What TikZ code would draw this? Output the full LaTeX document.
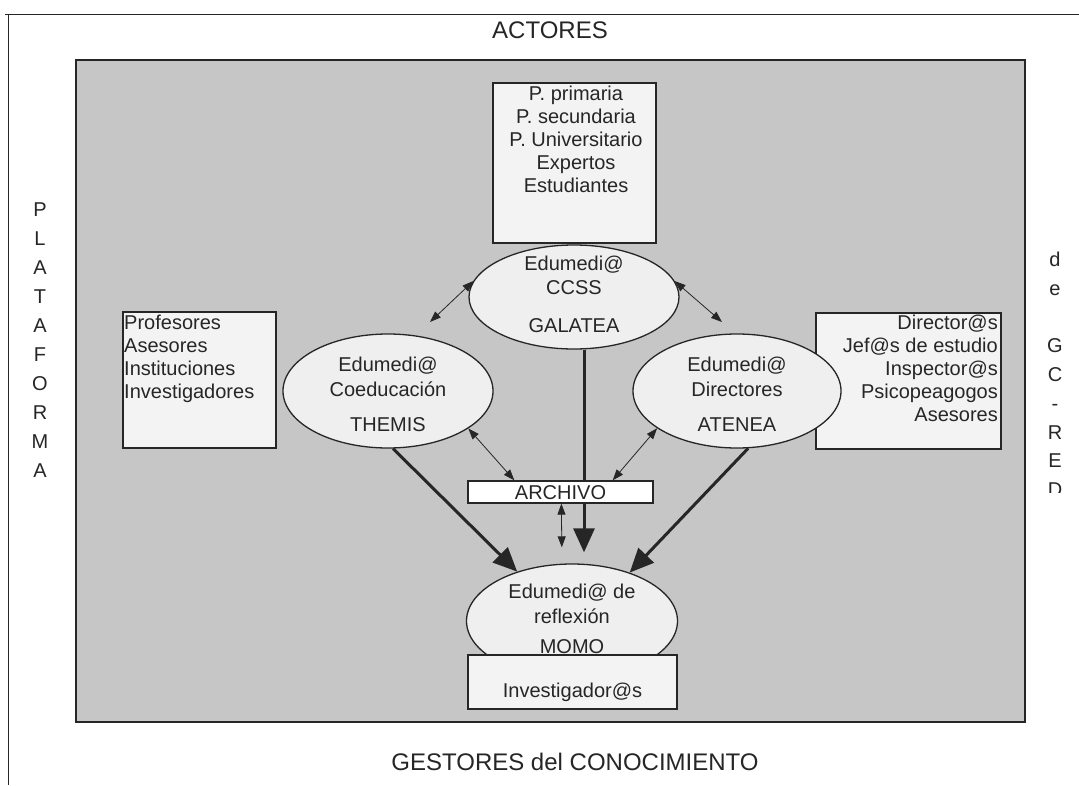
\documentclass[tikz,border=0pt]{standalone}
\usepackage{fontspec}
\setmainfont{Liberation Sans}
\usetikzlibrary{shapes.geometric,arrows.meta}
\definecolor{ink}{HTML}{262626}
\definecolor{bggrey}{HTML}{C6C6C6}
\definecolor{ellfill}{HTML}{EFEFEF}
\definecolor{boxfill}{HTML}{F3F3F3}
\tikzset{
  txt/.style={font=\fontsize{20}{23}\selectfont, text=ink, inner sep=0pt},
  title/.style={font=\fontsize{24}{28}\selectfont, text=ink, inner sep=0pt},
  boxstyle/.style={draw=ink, line width=1.3pt, fill=boxfill, rectangle, inner sep=0pt},
  ellstyle/.style={draw=ink, line width=1.3pt, fill=ellfill, ellipse, inner sep=0pt},
  bigarrow/.style={draw=ink, line width=3pt, -{Triangle[length=24pt,width=21pt]}},
  smallarrow/.style={draw=ink, line width=0.8pt, {Triangle[length=11pt,width=8pt]}-{Triangle[length=11pt,width=8pt]}},
}
\begin{document}
\begin{tikzpicture}[x=1pt,y=-1pt]
\useasboundingbox[fill=white] (0,0) rectangle (1079,785);
% outer page frame
\draw[ink, line width=1pt] (5,14) -- (1079,14);
\draw[ink, line width=1pt] (8,14) -- (8,785);
% grey panel
\node[draw=ink, line width=1.6pt, fill=bggrey, rectangle, inner sep=0pt,
  minimum width=949pt, minimum height=662pt] (panel) at (550.5,391) {};
% titles
\node[title] (actores) at (550,30) {ACTORES};
\node[title] (gestores) at (575,762) {GESTORES del CONOCIMIENTO};
\node[txt, align=center, font=\fontsize{20}{29}\selectfont] (plataforma) at (40,340)
  {P\\L\\A\\T\\A\\F\\O\\R\\M\\A};
\begin{scope}
\clip (1030,0) rectangle (1079,492);
\node[txt, align=center, font=\fontsize{20}{28.75}\selectfont, anchor=north] (gcred) at (1055,252)
  {d\\e\\[28.75pt]G\\C\\-\\R\\E\\D};
\end{scope}
% boxes
\node[boxstyle, minimum width=163pt, minimum height=160pt] (actbox) at (574.5,163) {};
\node[txt, align=center, anchor=north] (acttext) at (576,86)
  {P. primaria\\P. secundaria\\P. Universitario\\Expertos\\Estudiantes};
\node[boxstyle, minimum width=153pt, minimum height=136pt] (leftbox) at (199.5,380) {};
\node[txt, align=left, anchor=north west] (lefttext) at (124,315)
  {Profesores\\Asesores\\Instituciones\\Investigadores};
\node[boxstyle, minimum width=185pt, minimum height=136pt] (rightbox) at (908.5,381) {};
\node[txt, align=right, anchor=north east] (righttext) at (998,315)
  {Director@s\\Jef@s de estudio\\Inspector@s\\Psicopeagogos\\Asesores};
% ellipses
\node[ellstyle, minimum width=210pt, minimum height=104pt] (galatea) at (574,297) {};
\node[txt] (g1) at (574,265) {Edumedi@};
\node[txt] (g2) at (574,288) {CCSS};
\node[txt] (g3) at (574,326) {GALATEA};
\node[ellstyle, minimum width=210pt, minimum height=114pt] (themis) at (388,391) {};
\node[txt] (t1) at (388,366) {Edumedi@};
\node[txt] (t2) at (388,389) {Coeducación};
\node[txt] (t3) at (388,425) {THEMIS};
\node[ellstyle, minimum width=208pt, minimum height=114pt] (atenea) at (737,391) {};
\node[txt] (a1) at (737,366) {Edumedi@};
\node[txt] (a2) at (737,389) {Directores};
\node[txt] (a3) at (737,425) {ATENEA};
\node[ellstyle, minimum width=211pt, minimum height=114pt] (momo) at (572,621) {};
\node[txt] (m1) at (572,593) {Edumedi@ de};
\node[txt] (m2) at (572,616) {reflexión};
\node[txt] (m3) at (572,647) {MOMO};
\node[boxstyle, minimum width=209pt, minimum height=54pt] (invbox) at (572.5,682) {};
\node[txt] (invtext) at (572.5,692) {Investigador@s};
% thick arrows
\draw[bigarrow] (themis.-85) -- (momo.138);
\draw[bigarrow] (atenea.-79) -- (momo.40);
\draw[bigarrow, shorten >=11pt] ([xshift=10pt]galatea.south) -- ([xshift=12pt]momo.north);
% archive box
\node[boxstyle, fill=white, minimum width=185pt, minimum height=22pt] (archivo) at (560.5,492) {};
\node[txt] (archtext) at (560.5,493) {ARCHIVO};
% thin double arrows
\coordinate (c1) at (430,322);
\coordinate (c2) at (722,322);
\draw[smallarrow] (galatea.171) -- (c1);
\draw[smallarrow] (galatea.9) -- (c2);
\draw[smallarrow] (themis.-25) -- ([xshift=47pt]archivo.north west);
\draw[smallarrow] (atenea.-155) -- ([xshift=-41pt]archivo.north east);
\draw[smallarrow, shorten >=16pt] ([xshift=94pt]archivo.south west) -- ([xshift=-10pt]momo.north);
\end{tikzpicture}
\end{document}
